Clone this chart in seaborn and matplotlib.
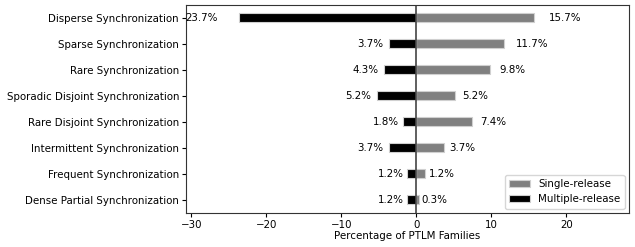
import matplotlib
matplotlib.use("Agg")
import matplotlib.pyplot as plt
import seaborn as sns
import pandas as pd

categories = [
    "Disperse Synchronization",
    "Sparse Synchronization",
    "Rare Synchronization",
    "Sporadic Disjoint Synchronization",
    "Rare Disjoint Synchronization",
    "Intermittent Synchronization",
    "Frequent Synchronization",
    "Dense Partial Synchronization",
]
single_release = [15.7, 11.7, 9.8, 5.2, 7.4, 3.7, 1.2, 0.3]
multiple_release = [23.7, 3.7, 4.3, 5.2, 1.8, 3.7, 1.2, 1.2]
series_names = ["Single-release", "Multiple-release"]

df = pd.DataFrame({
    "category": categories * 2,
    "value": single_release + [-v for v in multiple_release],
    "series": [series_names[0]] * len(categories) + [series_names[1]] * len(categories),
})

sns.set_style("ticks")
plt.rcParams["font.family"] = ["DejaVu Sans"]
for k in ["text.color", "axes.labelcolor", "xtick.color", "ytick.color", "axes.edgecolor"]:
    plt.rcParams[k] = "black"
fs = 7.4

fig = plt.figure(figsize=(6.35, 2.47), dpi=100)
ax = fig.add_axes([0.293, 0.139, 0.697, 0.842])

sns.barplot(data=df, x="value", y="category", hue="series", hue_order=series_names,
            order=categories, palette={"Single-release": "gray", "Multiple-release": "black"},
            dodge=False, width=0.36, orient="h", edgecolor="#d0d0d0", linewidth=0.8, ax=ax)

ax.axvline(0, color="#444444", linewidth=1.2)

for i, v in enumerate(single_release):
    ax.text(v * 1.1 + 0.35, i, f"{v:.1f}%", ha="left", va="center", fontsize=fs, color="black")
for i, v in enumerate(multiple_release):
    ax.text(-(v * 1.1 + 0.35), i, f"{v:.1f}%", ha="right", va="center", fontsize=fs, color="black")

ax.set_xlim(-30.7, 28.3)
ax.set_xticks([-30, -20, -10, 0, 10, 20])
ax.set_ylabel("")
ax.set_xlabel("Percentage of PTLM Families", fontsize=fs, labelpad=1)
ax.tick_params(axis="both", labelsize=fs, length=3, width=0.8, pad=2, colors="black")
for s in ax.spines.values():
    s.set_visible(True)
    s.set_linewidth(0.8)
    s.set_color("#333333")

leg = ax.legend(loc="lower right", fontsize=fs, frameon=True, borderaxespad=0.4,
                handlelength=2.0, labelspacing=0.5)
leg.get_frame().set_edgecolor("#cccccc")

fig.savefig("out.png", dpi=100)
